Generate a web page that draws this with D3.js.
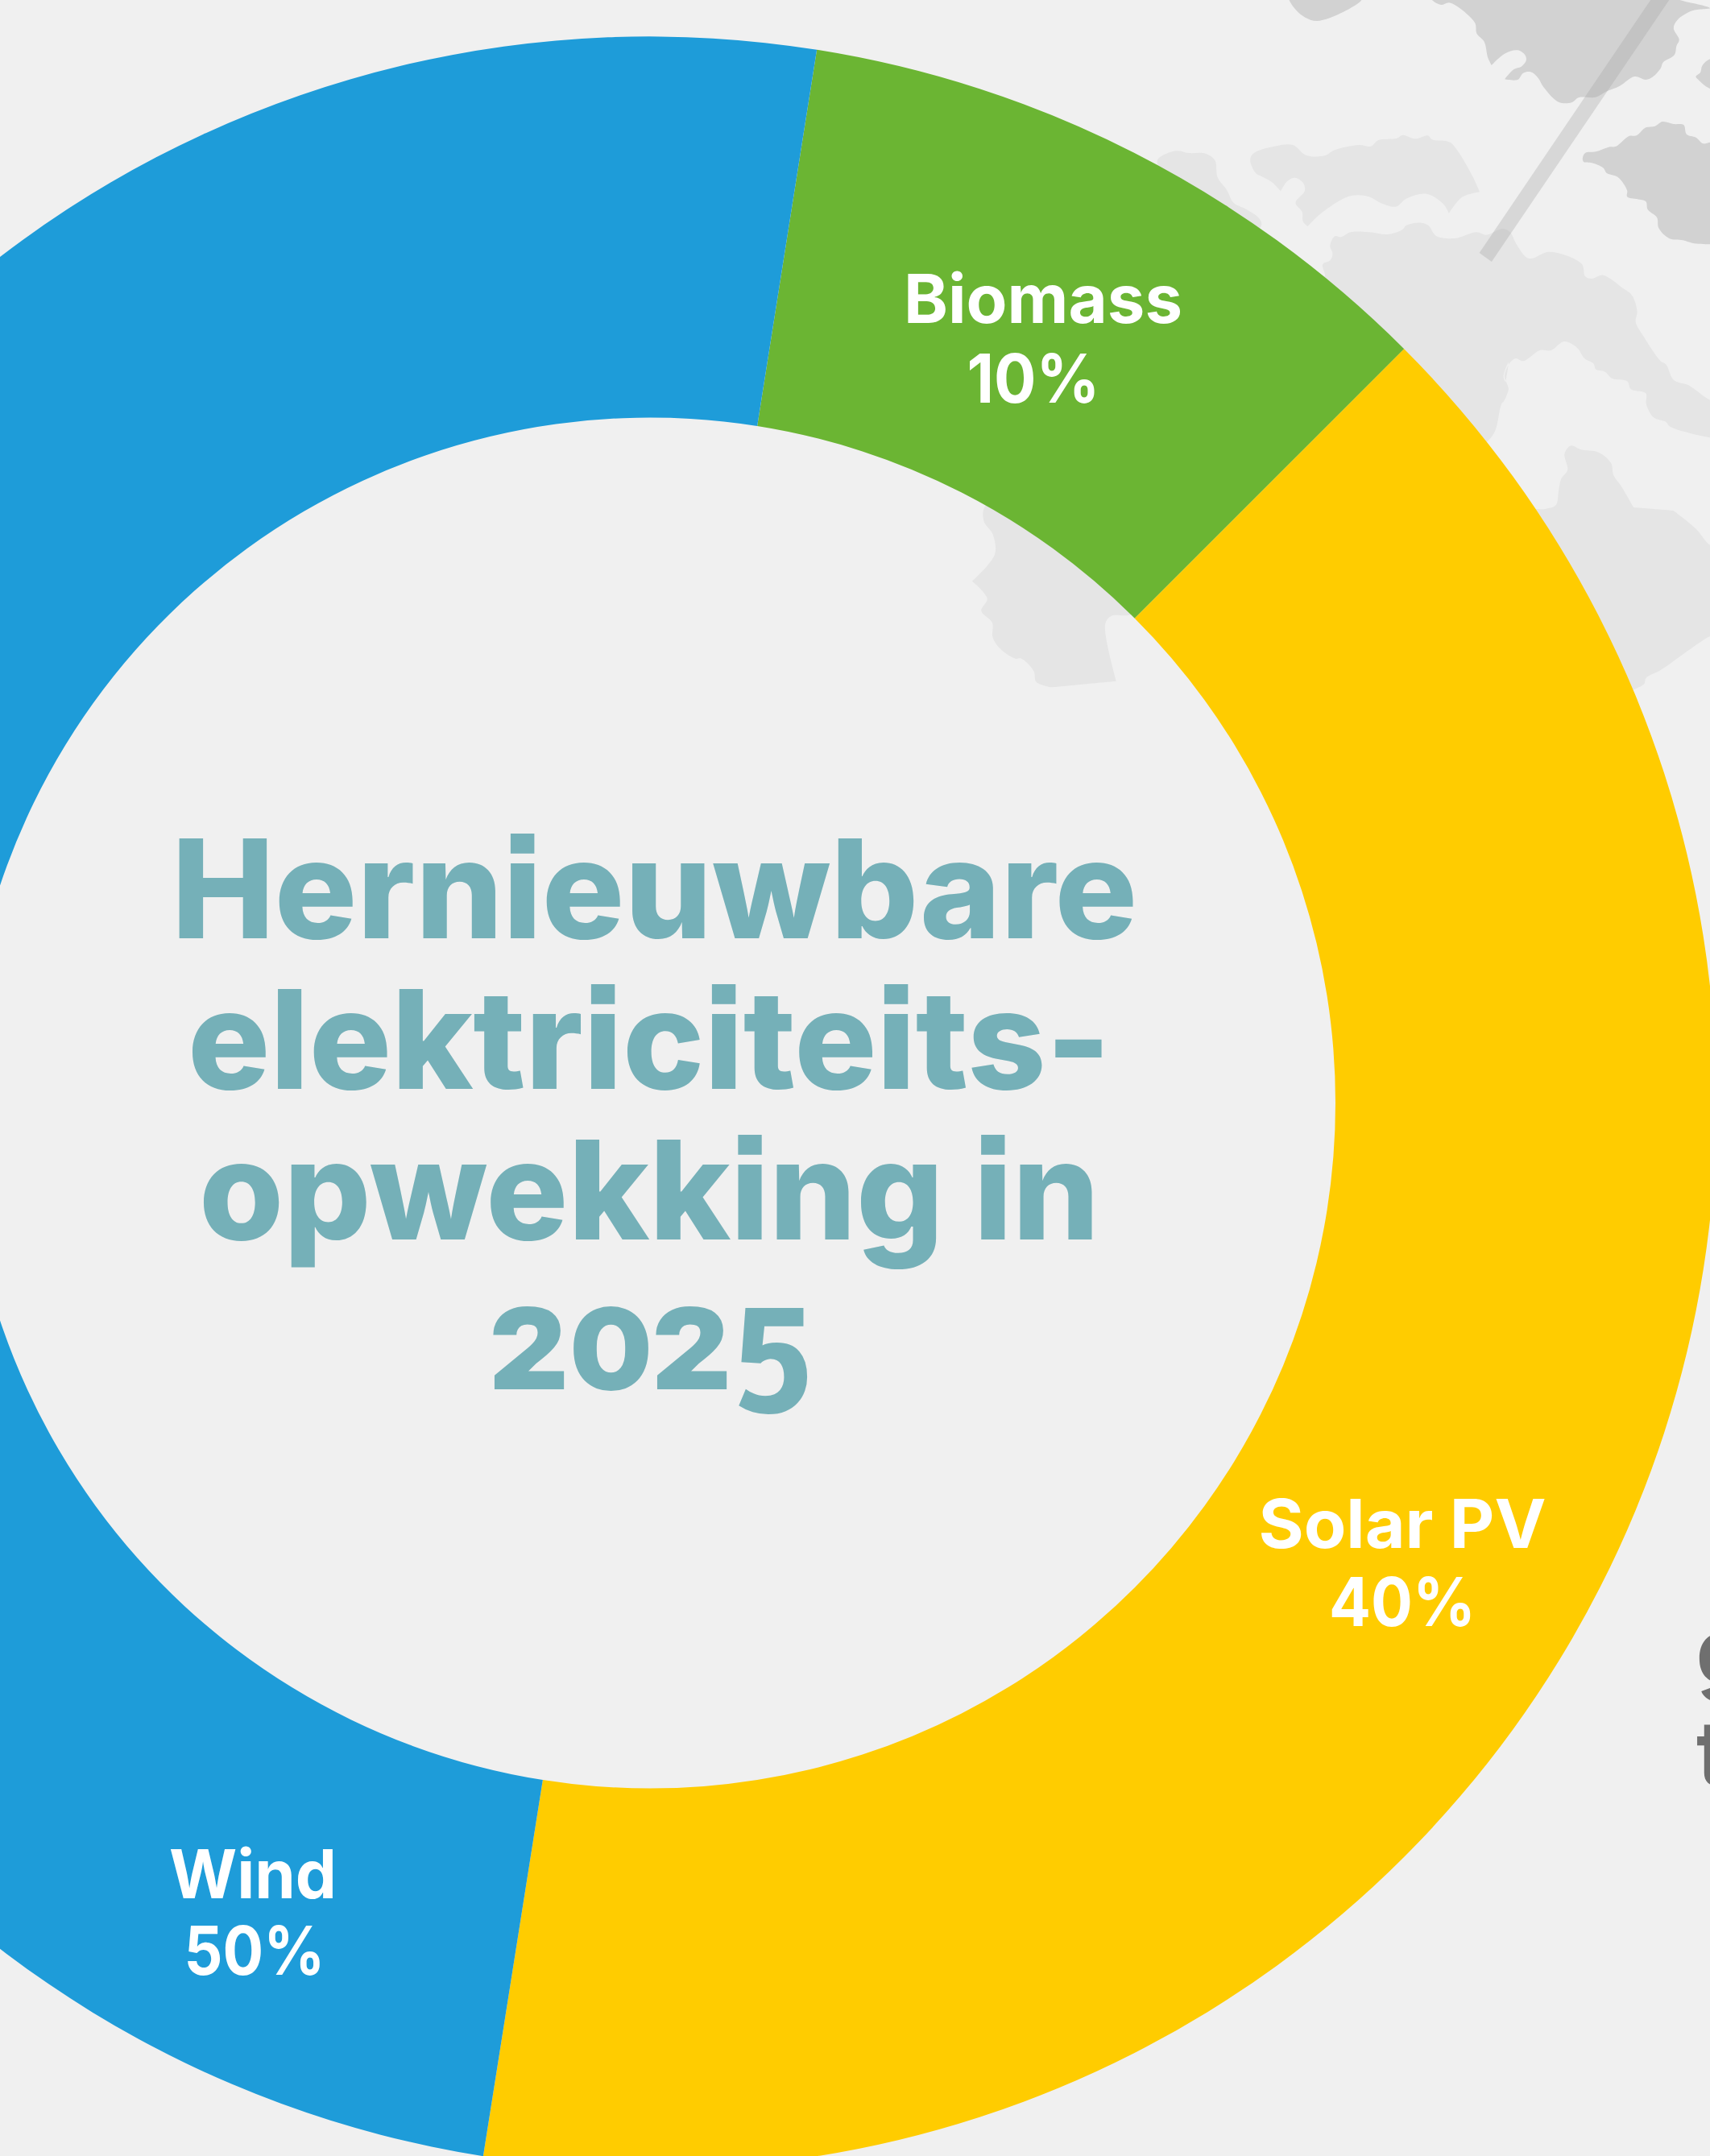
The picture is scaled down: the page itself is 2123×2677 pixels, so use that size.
<!DOCTYPE html>
<html>
<head>
<meta charset="utf-8">
<script src="https://cdn.jsdelivr.net/npm/d3@7"></script>
<style>
    html, body { margin: 0; padding: 0; background: #f0f0f0; overflow: hidden; }
    svg { display: block; }
    text { font-family: Inter, "Noto Sans", sans-serif; }
    #title text { font-feature-settings: "ss07"; }
    #title text.year { font-family: Roboto, Inter, sans-serif; font-feature-settings: "onum"; }
</style>
</head>
<body>
<svg class="chart"></svg>
<script>
const categories = ['Biomass', 'Solar PV', 'Wind'];
const shares = [10, 40, 50];
const colors = ['#6bb533', '#ffcc00', '#1e9cd9'];
const titleLines = ['Hernieuwbare', 'elektriciteits-', 'opwekking in', '2025'];

const width = 2123;
const height = 2677;
const centerX = 807;
const centerY = 1369.5;
const outerRadius = 1324;
const innerRadius = 851;
const startAngle = 9 * Math.PI / 180;

// where each label sits: name baseline, share baseline
const labelSpots = [
    { x: 1295, nameY: 401, shareX: 1283, shareY: 500, nameW: 346, shareW: 165 },
    { x: 1741, nameY: 1922, shareX: 1741, shareY: 2019, nameW: 357, shareW: 182 },
    { x: 314, nameY: 2357, shareX: 316, shareY: 2452, nameW: 208, shareW: 175 }
];

const titleSpots = [
    { x: 812.5, y: 1165, w: 1199 },
    { x: 806, y: 1352, w: 1146 },
    { x: 806, y: 1539, w: 1118 },
    { x: 809, y: 1725, w: 404 }
];

const cropAx = d3.scaleLinear().domain([0, 1568]).range([1400, 2123]);
const cropAy = d3.scaleLinear().domain([0, 1500]).range([0, 500]);
const cropBx = d3.scaleLinear().domain([0, 1568]).range([1150, 2123]);
const cropBy = d3.scaleLinear().domain([0, 1350]).range([450, 900]);
const fromA = (p) => [cropAx(p[0]), cropAy(p[1])];
const fromB = (p) => [cropBx(p[0]), cropBy(p[1])];

const darkMap = [
    [[435,-10],[435,0],[455,40],[478,65],[510,78],[580,45],[630,0],[630,-10]],
    [[820,-10],[820,0],[845,18],[865,10],[885,22],[935,85],[940,125],[960,155],[970,215],[980,243],[980,243],[1015,200],[1050,187],[1070,205],[1073,225],[1060,248],[1040,258],[1015,295],[1015,295],[1050,297],[1065,272],[1085,268],[1105,290],[1120,325],[1160,380],[1195,382],[1215,363],[1260,362],[1290,340],[1325,320],[1365,285],[1395,297],[1415,285],[1435,255],[1442,232],[1472,205],[1478,170],[1485,148],[1470,105],[1480,75],[1520,40],[1568,30],[1500,5],[1450,-10]],
    [[1600,220],[1568,220],[1547,245],[1542,270],[1530,285],[1535,295],[1568,330],[1600,330]],
    [[1225,590],[1232,570],[1260,565],[1295,548],[1315,545],[1350,507],[1370,505],[1395,475],[1420,470],[1440,453],[1470,462],[1497,465],[1505,500],[1530,512],[1550,535],[1568,530],[1600,530],[1600,910],[1568,910],[1520,905],[1495,895],[1458,888],[1430,850],[1425,810],[1400,780],[1395,750],[1345,733],[1345,710],[1320,660],[1290,645],[1280,625],[1250,607],[1228,603]]
];

const lightMap = [
    [[80,597],[130,562],[165,570],[210,572],[235,597],[242,660],[268,710],[285,755],[320,780],[355,815],[360,840],[300,900],[100,650]].map(fromA),
    [[330,595],[340,570],[395,545],[445,540],[480,578],[530,580],[555,560],[585,548],[625,540],[655,545],[675,522],[725,515],[740,503],[775,517],[808,505],[820,520],[868,530],[890,565],[928,655],[948,715],[948,715],[900,735],[865,795],[865,795],[850,760],[805,722],[750,740],[722,770],[680,755],[650,733],[600,730],[525,790],[485,843],[485,843],[472,825],[470,790],[452,755],[477,710],[472,680],[450,662],[430,675],[412,712],[412,712],[390,680],[365,660],[345,645]].map(fromA),
    [[400,1000],[530,1030],[525,985],[545,970],[552,945],[545,915],[558,880],[575,883],[600,865],[650,865],[700,873],[740,855],[750,840],[790,830],[810,840],[830,878],[880,888],[940,865],[965,875],[1010,852],[1030,865],[1045,905],[1075,960],[1090,962],[1135,938],[1222,982],[1232,1030],[1250,1038],[1280,1025],[1335,1075],[1358,1100],[1372,1160],[1368,1200],[1390,1255],[1435,1345],[1450,1358],[1470,1415],[1510,1435],[1568,1490],[1600,1500]].map(fromA)
        .concat([[1600,290],[1568,280],[1530,265],[1487,238],[1480,222],[1455,205],[1442,165],[1440,150]].map(fromB))
        .concat([[1395,1465],[1355,1450],[1345,1420],[1305,1410],[1285,1385],[1260,1375],[1255,1355],[1230,1335],[1210,1295],[1175,1272],[1140,1305],[1110,1305],[1065,1345],[1045,1335],[1030,1350],[1015,1400],[1025,1450],[1010,1500]].map(fromA))
        .concat([[1165,0],[1155,55],[1165,100],[1150,160],[1130,280],[1000,400],[700,300]].map(fromB)),
    [[1100,560],[1240,545],[1260,530],[1265,480],[1270,435],[1283,400],[1277,340],[1290,310],[1310,325],[1345,335],[1370,375],[1375,420],[1390,460],[1415,540],[1415,540],[1495,552],[1495,552],[1540,620],[1568,680],[1600,700],[1600,1000],[1568,1020],[1470,1145],[1440,1175],[1435,1200],[1300,1230]].map(fromB),
    [[120,530],[115,590],[133,640],[137,715],[92,815],[92,815],[122,880],[110,925],[132,970],[133,1025],[150,1070],[178,1103],[190,1103],[215,1150],[220,1190],[250,1210],[250,1210],[380,1187],[380,1187],[358,975],[370,945],[415,935],[500,700],[300,450]].map(fromB)
];

const roadStrip = [[1408,0],[1458,0],[980,975],[947,942]];

const svg = d3.select('svg.chart')
    .attr('width', width)
    .attr('height', height)
    .attr('viewBox', `0 0 ${width} ${height}`);

svg.append('rect')
    .attr('width', width)
    .attr('height', height)
    .attr('fill', '#f0f0f0');

const mapLine = d3.line().curve(d3.curveCatmullRomClosed.alpha(0.5));
const mapGroup = svg.append('g').attr('id', 'map');

mapGroup.selectAll('path.light')
    .data(lightMap)
    .join('path')
    .attr('class', 'light')
    .attr('d', mapLine)
    .attr('fill', '#e5e5e5');

mapGroup.selectAll('path.dark')
    .data(darkMap.map((shape) => shape.map(fromA)))
    .join('path')
    .attr('class', 'dark')
    .attr('d', mapLine)
    .attr('fill', '#d2d2d2');

mapGroup.append('path')
    .attr('d', d3.line().curve(d3.curveLinearClosed)(roadStrip.map(fromA)))
    .attr('fill', 'rgb(164,164,164)')
    .attr('fill-opacity', 0.33);

// the ring
const pie = d3.pie()
    .sort(null)
    .startAngle(startAngle)
    .endAngle(startAngle + 2 * Math.PI);

const arc = d3.arc()
    .innerRadius(innerRadius)
    .outerRadius(outerRadius);

const ring = svg.append('g')
    .attr('id', 'ring')
    .attr('transform', `translate(${centerX},${centerY})`);

ring.selectAll('path')
    .data(pie(shares))
    .join('path')
    .attr('d', arc)
    .attr('fill', (d, i) => colors[i]);

// slice labels
const labels = svg.append('g').attr('id', 'labels');

categories.forEach((name, i) => {
    const spot = labelSpots[i];

    labels.append('text')
        .attr('x', spot.x)
        .attr('y', spot.nameY)
        .attr('text-anchor', 'middle')
        .attr('font-size', 84)
        .attr('font-weight', 700)
        .attr('fill', 'white')
        .attr('textLength', spot.nameW)
        .attr('lengthAdjust', 'spacingAndGlyphs')
        .text(name);

    labels.append('text')
        .attr('x', spot.shareX)
        .attr('y', spot.shareY)
        .attr('text-anchor', 'middle')
        .attr('font-size', 84)
        .attr('font-weight', 700)
        .attr('fill', 'white')
        .attr('textLength', spot.shareW)
        .attr('lengthAdjust', 'spacingAndGlyphs')
        .text(`${shares[i]}%`);
});

// centre title
svg.append('g')
    .attr('id', 'title')
    .selectAll('text')
    .data(titleLines)
    .join('text')
    .attr('class', (d, i) => i === 3 ? 'year' : 'line')
    .attr('x', (d, i) => titleSpots[i].x)
    .attr('y', (d, i) => titleSpots[i].y)
    .attr('text-anchor', 'middle')
    .attr('font-size', (d, i) => i === 3 ? 178 : 170)
    .attr('font-weight', (d, i) => i === 3 ? 900 : 800)
    .attr('fill', '#75b0b8')
    .attr('textLength', (d, i) => titleSpots[i].w)
    .attr('lengthAdjust', 'spacingAndGlyphs')
    .text((d) => d);

// text from the next panel, cut off by the right edge
svg.append('text')
    .attr('x', 2105)
    .attr('y', 2090)
    .attr('font-size', 112)
    .attr('font-weight', 600)
    .attr('fill', '#6f6f6f')
    .text('g');

svg.append('text')
    .attr('x', 2106)
    .attr('y', 2217)
    .attr('font-size', 112)
    .attr('font-weight', 600)
    .attr('fill', '#6f6f6f')
    .text('t');
</script>
</body>
</html>
